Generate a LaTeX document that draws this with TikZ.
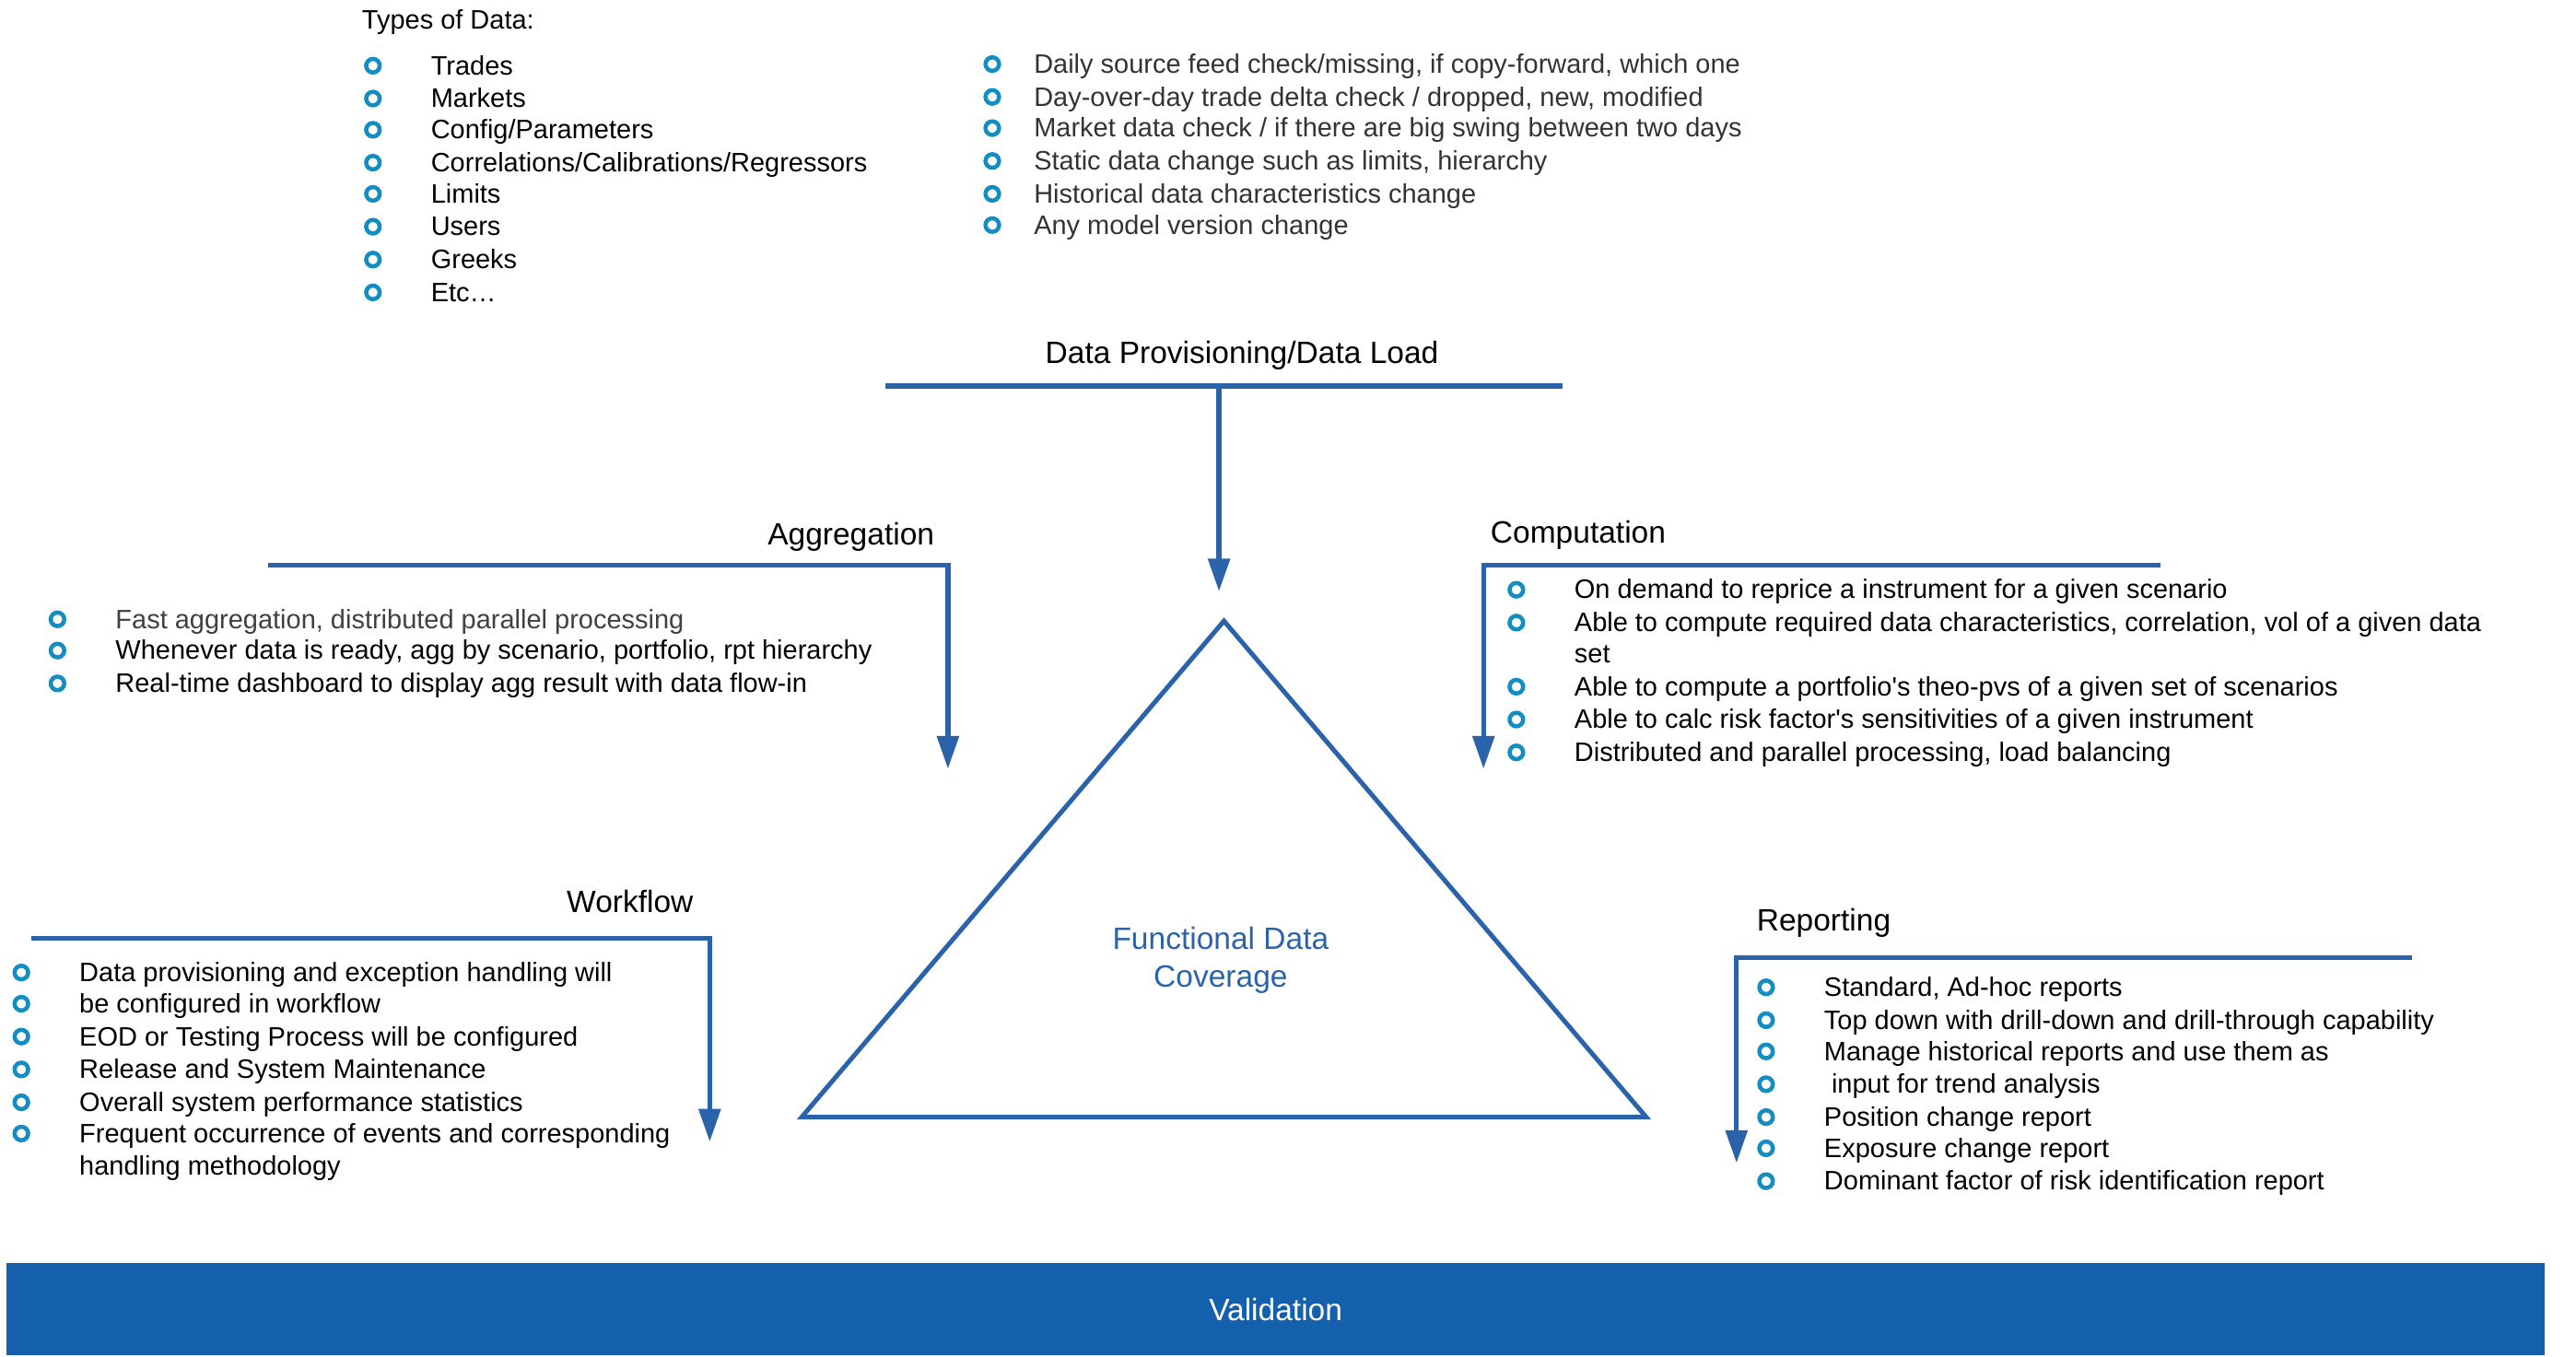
\documentclass[tikz,border=0pt]{standalone}
\usepackage{fontspec}
\setmainfont{Liberation Sans}[Ligatures=TeXOff]
\usetikzlibrary{arrows.meta}

\definecolor{flowblue}{RGB}{43,99,171}
\definecolor{barblue}{RGB}{21,96,173}
\definecolor{dotblue}{RGB}{20,142,194}

\begin{document}
\begin{tikzpicture}[x=0.02cm, y=-0.02cm,
    flow/.style={draw=flowblue, line width=1.7pt},
    flowarrow/.style={flow, -{Triangle[length=4mm,width=2.6mm]}},
    dot/.style={circle, draw=dotblue, line width=1.45pt, minimum size=0.165cm, inner sep=0pt},
    itm/.style={anchor=base west, inner sep=0pt, font=\fontsize{9.25}{11}\selectfont},
    ttl/.style={anchor=base, inner sep=0pt, font=\fontsize{10.7}{13}\selectfont}]
    \useasboundingbox (0,0) rectangle (1568,826);

    \node[itm] (types) at (220,17.5) {Types of Data:};
    \foreach \y/\t [count=\i] in {40/Trades, 60/Markets, 79/{Config/Parameters},
        99/{Correlations/Calibrations/Regressors}, 118/Limits, 138/Users, 158/Greeks, 178/{Etc…}} {
        \node[dot] (tyd\i) at (227,\y) {};
        \node[itm] (tyt\i) at (262,\y+5.5) {\t};
    }

    \foreach \y/\t [count=\i] in {39/{Daily source feed check/missing, if copy-forward, which one},
        59/{Day-over-day trade delta check / dropped, new, modified},
        78/{Market data check / if there are big swing between two days},
        98/{Static data change such as limits, hierarchy},
        118/{Historical data characteristics change},
        137/{Any model version change}} {
        \node[dot] (vcd\i) at (604,\y) {};
        \node[itm, text=black!80] (vct\i) at (629,\y+5.5) {\t};
    }

    \node[ttl] (load) at (756,221.5) {Data Provisioning/Data Load};
    \coordinate (dlL) at (539,235);
    \coordinate (dlR) at (951,235);
    \coordinate (dlM) at (742,235);
    \coordinate (dlE) at (742,360);
    \draw[flow] (dlL) -- (dlR);
    \draw[flowarrow] (dlM) -- (dlE);

    \node[ttl] (agg) at (518,331.5) {Aggregation};
    \coordinate (agL) at (163,344);
    \coordinate (agC) at (577,344);
    \coordinate (agE) at (577,468);
    \draw[flowarrow] (agL) -- (agC) -- (agE);
    \foreach \y/\t [count=\i] in {377/{\textcolor{black!75}{Fast aggregation, distributed parallel processing}},
        396/{Whenever data is ready, agg by scenario, portfolio, rpt hierarchy},
        416/{Real-time dashboard to display agg result with data flow-in}} {
        \node[dot] (agd\i) at (35,\y) {};
        \node[itm] (agt\i) at (70,\y+5.5) {\t};
    }

    \node[ttl, anchor=base west] (comp) at (907,330.5) {Computation};
    \coordinate (cpR) at (1315,344);
    \coordinate (cpC) at (903,344);
    \coordinate (cpE) at (903,468);
    \draw[flowarrow] (cpR) -- (cpC) -- (cpE);
    \foreach \y/\t [count=\i] in {359/{On demand to reprice a instrument for a given scenario},
        379/{Able to compute required data characteristics, correlation, vol of a given data},
        418/{Able to compute a portfolio's theo-pvs of a given set of scenarios},
        438/{Able to calc risk factor's sensitivities of a given instrument},
        458/{Distributed and parallel processing, load balancing}} {
        \node[dot] (cpd\i) at (923,\y) {};
        \node[itm] (cpt\i) at (958,\y+5.5) {\t};
    }
    \node[itm] (cpset) at (958,403.5) {set};

    \coordinate (apex) at (745,378);
    \coordinate (triR) at (1002,680);
    \coordinate (triL) at (488,680);
    \draw[flow, line width=1.6pt] (apex) -- (triR) -- (triL) -- cycle;
    \node[text=flowblue, align=center, font=\fontsize{10.7}{13}\selectfont] (cov) at (743,584.5) {Functional Data\\Coverage};

    \node[ttl] (wf) at (383.5,555.5) {Workflow};
    \coordinate (wfL) at (19,571);
    \coordinate (wfC) at (432,571);
    \coordinate (wfE) at (432,695);
    \draw[flowarrow] (wfL) -- (wfC) -- (wfE);
    \foreach \y/\t [count=\i] in {592/{Data provisioning and exception handling will},
        611/{be configured in workflow},
        631/{EOD or Testing Process will be configured},
        651/{Release and System Maintenance},
        671/{Overall system performance statistics},
        690/{Frequent occurrence of events and corresponding}} {
        \node[dot] (wfd\i) at (13,\y) {};
        \node[itm] (wft\i) at (48,\y+5.5) {\t};
    }
    \node[itm] (wfhm) at (48,715.5) {handling methodology};

    \node[ttl, anchor=base west] (rep) at (1069,566.5) {Reporting};
    \coordinate (rpR) at (1468,583);
    \coordinate (rpC) at (1057,583);
    \coordinate (rpE) at (1057,708);
    \draw[flowarrow] (rpR) -- (rpC) -- (rpE);
    \foreach \y/\t [count=\i] in {601/{Standard, Ad-hoc reports},
        621/{Top down with drill-down and drill-through capability},
        640/{Manage historical reports and use them as},
        660/{\ input for trend analysis},
        680/{Position change report},
        699/{Exposure change report},
        719/{Dominant factor of risk identification report}} {
        \node[dot] (rpd\i) at (1075,\y) {};
        \node[itm] (rpt\i) at (1110,\y+5.5) {\t};
    }

    \node[fill=barblue, text=white, minimum width=30.9cm, minimum height=1.12cm, inner sep=0pt,
        font=\fontsize{10.7}{13}\selectfont] (valid) at (776.5,797) {Validation};
\end{tikzpicture}
\end{document}
